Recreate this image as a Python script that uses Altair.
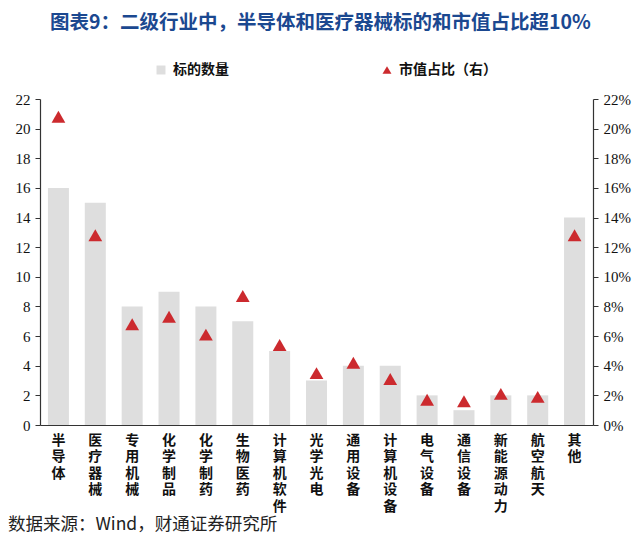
import altair as alt
import pandas as pd

categories = ["半导体", "医疗器械", "专用机械", "化学制品", "化学制药", "生物医药", "计算机软件",
              "光学光电", "通用设备", "计算机设备", "电气设备", "通信设备", "新能源动力", "航空航天", "其他"]
counts = [16, 15, 8, 9, 8, 7, 5, 3, 4, 4, 2, 1, 2, 2, 14]
shares = [0.208, 0.128, 0.068, 0.073, 0.061, 0.087, 0.054, 0.035, 0.042, 0.031, 0.017, 0.016, 0.021, 0.019, 0.128]
series_names = ["标的数量", "市值占比（右）"]
left_ticks = list(range(0, 23, 2))
right_ticks = [i / 100 for i in range(0, 23, 2)]

df = pd.DataFrame({"cat": categories, "count": counts, "share": shares})

CJK = "Noto Sans CJK SC"
SERIF = "Liberation Serif"

x_enc = alt.X("cat:N", sort=categories, title=None,
              scale=alt.Scale(paddingInner=0.43, paddingOuter=0.215),
              axis=alt.Axis(labelAngle=0, ticks=False, domainColor="#333333", domainWidth=1.2,
                            labelExpr="split(datum.label, '')", labelFont=CJK, labelFontWeight="bold",
                            labelFontSize=14, labelLineHeight=16.5, labelBaseline="top",
                            labelPadding=8, labelColor="#111111"))

color_scale = alt.Scale(domain=series_names, range=["#dedede", "#cc2a2e"])
shape_scale = alt.Scale(domain=series_names, range=["square", "triangle-up"])
legend = alt.Legend(title=None, orient="none", direction="horizontal", legendX=114, legendY=-36,
                    labelFont=CJK, labelFontWeight="bold", labelFontSize=14, labelColor="#111111",
                    symbolSize=80, symbolStrokeWidth=0, columnPadding=151, labelOffset=5, padding=0)

bars = alt.Chart(df).transform_calculate(series="'标的数量'").mark_bar().encode(
    x=x_enc,
    y=alt.Y("count:Q", title=None, scale=alt.Scale(domain=[0, 22], nice=False),
            axis=alt.Axis(values=left_ticks, grid=False, orient="left", tickSize=5, tickColor="#333333",
                          domainColor="#333333", domainWidth=1.2, labelFont=SERIF, labelFontSize=15,
                          labelColor="#111111", labelPadding=5)),
    color=alt.Color("series:N", scale=color_scale, legend=legend),
    shape=alt.Shape("series:N", scale=shape_scale, legend=legend),
)

points = alt.Chart(df).transform_calculate(series="'市值占比（右）'").mark_point(
    filled=True, size=190, opacity=1).encode(
    x=alt.X("cat:N", sort=categories),
    y=alt.Y("share:Q", title=None, scale=alt.Scale(domain=[0, 0.22], nice=False),
            axis=alt.Axis(values=right_ticks, format=".0%", grid=False, orient="right", tickSize=5,
                          tickColor="#333333", domainColor="#333333", domainWidth=1.2, labelFont=SERIF,
                          labelFontSize=15, labelColor="#111111", labelPadding=5)),
    color=alt.Color("series:N", scale=color_scale, legend=legend),
    shape=alt.Shape("series:N", scale=shape_scale, legend=legend),
)

footer = alt.Chart(pd.DataFrame({"t": ["数据来源：Wind，财通证券研究所"]})).mark_text(
    align="left", baseline="middle", font=CJK, fontSize=17.5, color="#222222").encode(
    text="t:N", x=alt.value(-32), y=alt.value(426))

chart = alt.layer(bars, points, footer).resolve_scale(y="independent").properties(
    width=553, height=326,
    autosize=alt.AutoSizeParams(type="none"),
    padding={"left": 40, "top": 99, "right": 47, "bottom": 114},
    title=alt.Title("图表9：二级行业中，半导体和医疗器械标的和市值占比超10%", font=CJK, fontSize=19.5,
                    fontWeight="bold", color="#1b4890", anchor="middle", offset=30, dx=4),
).configure_view(stroke=None)

chart.save("out.html", embed_options={"renderer": "svg", "actions": False})
